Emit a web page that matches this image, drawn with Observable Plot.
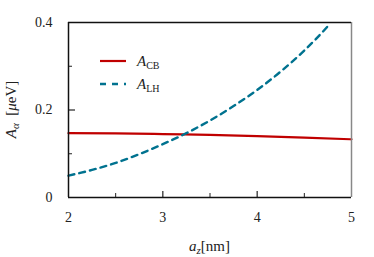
<!DOCTYPE html>
<html><head><meta charset="utf-8">
<script src="https://cdn.jsdelivr.net/npm/d3@7"></script>
<script src="https://cdn.jsdelivr.net/npm/@observablehq/plot@0.6"></script>
<style>
body{margin:0;background:#fff}
#c{position:relative;width:374px;height:257px}
svg text{font-family:"Liberation Serif","DejaVu Serif",serif}
</style>
</head><body><div id="c"></div>
<script>
// data
const azCB = [2.0, 2.5, 3.0, 3.5, 4.0, 4.5, 5.0];
const aCB  = [0.147, 0.1465, 0.145, 0.1432, 0.1405, 0.137, 0.133];
const azLH = [2.0, 2.25, 2.5, 2.75, 3.0, 3.25, 3.5, 3.75, 4.0, 4.25, 4.5, 4.75, 4.77];
const aLH  = [0.050, 0.063, 0.079, 0.099, 0.122, 0.147, 0.176, 0.209, 0.246, 0.288, 0.336, 0.392, 0.397];
const seriesSub = ["CB", "LH"];
const seriesColor = ["#c00000", "#00728f"];
const xTickLabels = [2, 3, 4, 5];
const xMajorInner = [3, 4];
const xMinor = [2.5, 3.5, 4.5];
const yTickLabels = [0, 0.2, 0.4];
const yMajorInner = [0.2];
const yMinor = [0.1, 0.3];

const W = 374, H = 257, mL = 68, mR = 23, mT = 22, mB = 60;
const iW = W - mL - mR, iH = H - mT - mB;

const cb = azCB.map((x, i) => ({x, y: aCB[i]}));
const lh = azLH.map((x, i) => ({x, y: aLH[i]}));

const plot = Plot.plot({
  width: W, height: H, marginLeft: mL, marginRight: mR, marginTop: mT, marginBottom: mB,
  style: {fontFamily: '"Liberation Serif", serif', fontSize: "14px", color: "#222", background: "#fff"},
  x: {domain: [2, 5]},
  y: {domain: [0, 0.4]},
  marks: [
    Plot.axisX(xTickLabels, {tickSize: 0, tickPadding: 15, label: null, tickFormat: d => String(d), fontSize: 14}),
    Plot.axisY(yTickLabels, {tickSize: 0, tickPadding: 16, label: null, tickFormat: d => d === 0 ? "0" : String(d), fontSize: 14}),
    Plot.tickX(xMajorInner, {x: d => d, insetTop: iH - 6, stroke: "#222", strokeWidth: 1.2}),
    Plot.tickX(xMinor, {x: d => d, insetTop: iH - 4, stroke: "#222", strokeWidth: 1}),
    Plot.tickY(yMajorInner, {y: d => d, insetRight: iW - 7, stroke: "#222", strokeWidth: 1.2}),
    Plot.tickY(yMinor, {y: d => d, insetRight: iW - 4, stroke: "#222", strokeWidth: 1}),
    Plot.line(cb, {x: "x", y: "y", stroke: seriesColor[0], strokeWidth: 2.2, curve: "monotone-x"}),
    Plot.line(lh, {x: "x", y: "y", stroke: seriesColor[1], strokeWidth: 2.4, strokeDasharray: "6,5", curve: "monotone-x"}),
    Plot.ruleX([5], {stroke: "#888", strokeWidth: 1.5}),
    Plot.ruleY([0, 0.4], {stroke: "#111", strokeWidth: 1.5}),
    Plot.ruleX([2], {stroke: "#111", strokeWidth: 1.5})
  ]
});
document.getElementById("c").appendChild(plot);

const svg = d3.select(plot);
const sx = plot.scale("x"), sy = plot.scale("y");

// x label
const xl = svg.append("text")
  .attr("x", (sx.apply(2) + sx.apply(5)) / 2)
  .attr("y", 251).attr("text-anchor", "middle").attr("fill", "#222").style("font-size", "15px");
xl.append("tspan").attr("font-style", "italic").text("a");
xl.append("tspan").attr("font-style", "italic").attr("dy", 3).style("font-size", "11px").text("z");
xl.append("tspan").attr("dy", -3).text("[nm]");

// y label
const yl = svg.append("text")
  .attr("transform", `translate(16,${(sy.apply(0) + sy.apply(0.4)) / 2}) rotate(-90)`)
  .attr("text-anchor", "middle").attr("fill", "#222").style("font-size", "15px");
yl.append("tspan").attr("font-style", "italic").text("A");
yl.append("tspan").attr("font-style", "italic").attr("dy", 3).style("font-size", "11px").text("α");
yl.append("tspan").attr("dy", -3).attr("xml:space", "preserve").text("\u2002[");
yl.append("tspan").attr("font-style", "italic").text("μ");
yl.append("tspan").text("eV]");

// legend
const lg = svg.append("g").attr("transform", "translate(100,61)");
seriesSub.forEach((s, i) => {
  const g = lg.append("g").attr("transform", `translate(0,${i * 23})`);
  g.append("line").attr("x1", 0).attr("x2", 26).attr("y1", 0).attr("y2", 0)
    .attr("stroke", seriesColor[i]).attr("stroke-width", i === 1 ? 2.4 : 2.2)
    .attr("stroke-dasharray", i === 1 ? "6,6" : null);
  const t = g.append("text").attr("x", 37).attr("y", 5).attr("text-anchor", "start")
    .attr("fill", "#222").style("font-size", "15px");
  t.append("tspan").attr("font-style", "italic").text("A");
  t.append("tspan").attr("dy", 3).style("font-size", "10px").text(s);
});
</script>
</body></html>
